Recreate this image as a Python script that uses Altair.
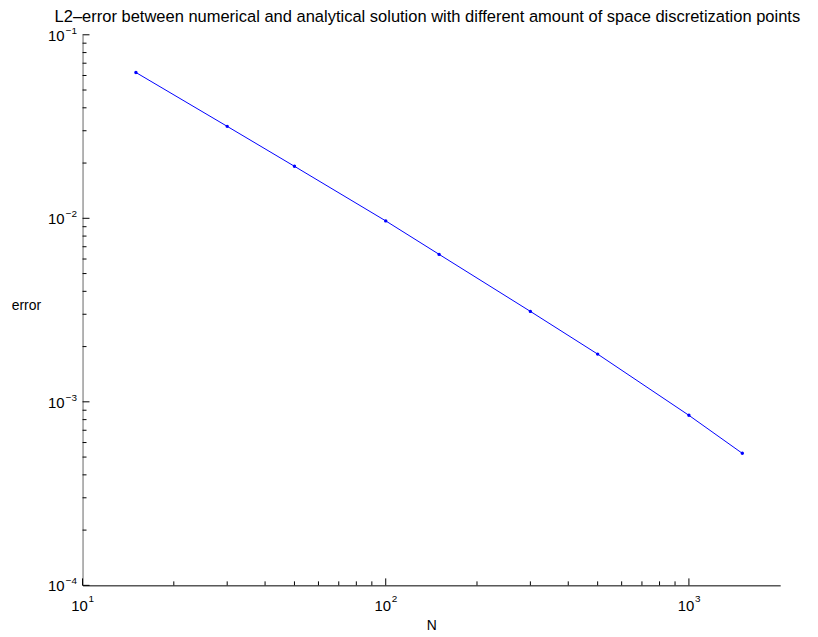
import altair as alt
import pandas as pd

# ---- data ----
N = [15, 30, 50, 100, 150, 300, 500, 1000, 1500]
error = [0.0623, 0.0317, 0.0192, 0.00968, 0.00636, 0.00311, 0.00182, 0.000844, 0.000524]

x_major = [10, 100, 1000]
x_exp = ["1", "2", "3"]
x_minor = [20, 30, 40, 50, 60, 70, 80, 90, 200, 300, 400, 500, 600, 700, 800, 900]

y_major = [1e-4, 1e-3, 1e-2, 1e-1]
y_exp = ["\u22124", "\u22123", "\u22122", "\u22121"]
y_minor = [2e-4, 3e-4, 4e-4, 5e-4, 6e-4, 7e-4, 8e-4, 9e-4,
           2e-3, 3e-3, 4e-3, 5e-3, 6e-3, 7e-3, 8e-3, 9e-3,
           2e-2, 3e-2, 4e-2, 5e-2, 6e-2, 7e-2, 8e-2, 9e-2]

TITLE = "L2\u2013error between numerical and analytical solution with different amount of space discretization points"
FONT = "Liberation Sans"
W, H = 702, 554

df = pd.DataFrame({"N": N, "error": error})
xmaj = pd.DataFrame({"v": x_major, "e": x_exp})
xmin = pd.DataFrame({"v": x_minor})
ymaj = pd.DataFrame({"v": y_major, "e": y_exp})
ymin = pd.DataFrame({"v": y_minor})
tdf = pd.DataFrame({"t": [TITLE]})

xs = alt.Scale(type="log", domain=[10, 2000], nice=False)
ys = alt.Scale(type="log", domain=[1e-4, 1e-1], nice=False)

xaxis = alt.Axis(labels=False, ticks=False, grid=False, domainColor="black",
                 title="N", titleFont=FONT, titleFontSize=14, titleFontWeight="normal",
                 titleColor="black", titleX=W / 2, titleY=40, titleBaseline="middle")
yaxis = alt.Axis(labels=False, ticks=False, grid=False, domainColor="#666666",
                 title="error", titleFont=FONT, titleFontSize=14, titleFontWeight="normal",
                 titleColor="black", titleAngle=0, titleX=-57, titleY=272,
                 titleAlign="center", titleBaseline="middle")

line = alt.Chart(df).mark_line(color="#0000ff", strokeWidth=1).encode(
    x=alt.X("N:Q", scale=xs, axis=xaxis),
    y=alt.Y("error:Q", scale=ys, axis=yaxis),
)
pts = alt.Chart(df).mark_point(filled=True, color="#0000ff", size=12, opacity=1).encode(
    x=alt.X("N:Q", scale=xs), y=alt.Y("error:Q", scale=ys)
)

# inward tick marks
xmaj_t = alt.Chart(xmaj).mark_rule(color="black", strokeWidth=1).encode(
    x=alt.X("v:Q", scale=xs), y=alt.value(H), y2=alt.value(H - 7))
xmin_t = alt.Chart(xmin).mark_rule(color="black", strokeWidth=1).encode(
    x=alt.X("v:Q", scale=xs), y=alt.value(H), y2=alt.value(H - 4))
ymaj_t = alt.Chart(ymaj).mark_rule(color="black", strokeWidth=1).encode(
    y=alt.Y("v:Q", scale=ys), x=alt.value(0), x2=alt.value(7))
ymin_t = alt.Chart(ymin).mark_rule(color="black", strokeWidth=1).encode(
    y=alt.Y("v:Q", scale=ys), x=alt.value(0), x2=alt.value(4))

# labels "10" with superscript exponent
xlab = alt.Chart(xmaj).mark_text(font=FONT, fontSize=15, color="black", align="center",
                                 baseline="alphabetic", dx=-3).encode(
    x=alt.X("v:Q", scale=xs), y=alt.value(H + 26), text=alt.value("10"))
xlab_e = alt.Chart(xmaj).mark_text(font=FONT, fontSize=10, color="black", align="left",
                                   baseline="alphabetic", dx=6).encode(
    x=alt.X("v:Q", scale=xs), y=alt.value(H + 17), text="e:N")
ylab = alt.Chart(ymaj).mark_text(font=FONT, fontSize=15, color="black", align="right",
                                 baseline="alphabetic", dy=6).encode(
    y=alt.Y("v:Q", scale=ys), x=alt.value(-18), text=alt.value("10"))
ylab_e = alt.Chart(ymaj).mark_text(font=FONT, fontSize=10, color="black", align="left",
                                   baseline="alphabetic", dy=-1).encode(
    y=alt.Y("v:Q", scale=ys), x=alt.value(-17), text="e:N")

title = alt.Chart(tdf).mark_text(font=FONT, fontSize=16.6, color="black", align="center",
                                 baseline="alphabetic").encode(
    x=alt.value(W / 2 - 4), y=alt.value(-13), text="t:N")

chart = alt.layer(line, pts, xmaj_t, xmin_t, ymaj_t, ymin_t, xlab, xlab_e, ylab, ylab_e, title).properties(
    width=W, height=H,
    autosize=alt.AutoSizeParams(type="none"),
    padding={"left": 75, "top": 25, "right": 30, "bottom": 46},
).configure(background="white").configure_view(strokeWidth=0, stroke="transparent")

chart.save("out.html", embed_options={"renderer": "svg", "actions": False})
